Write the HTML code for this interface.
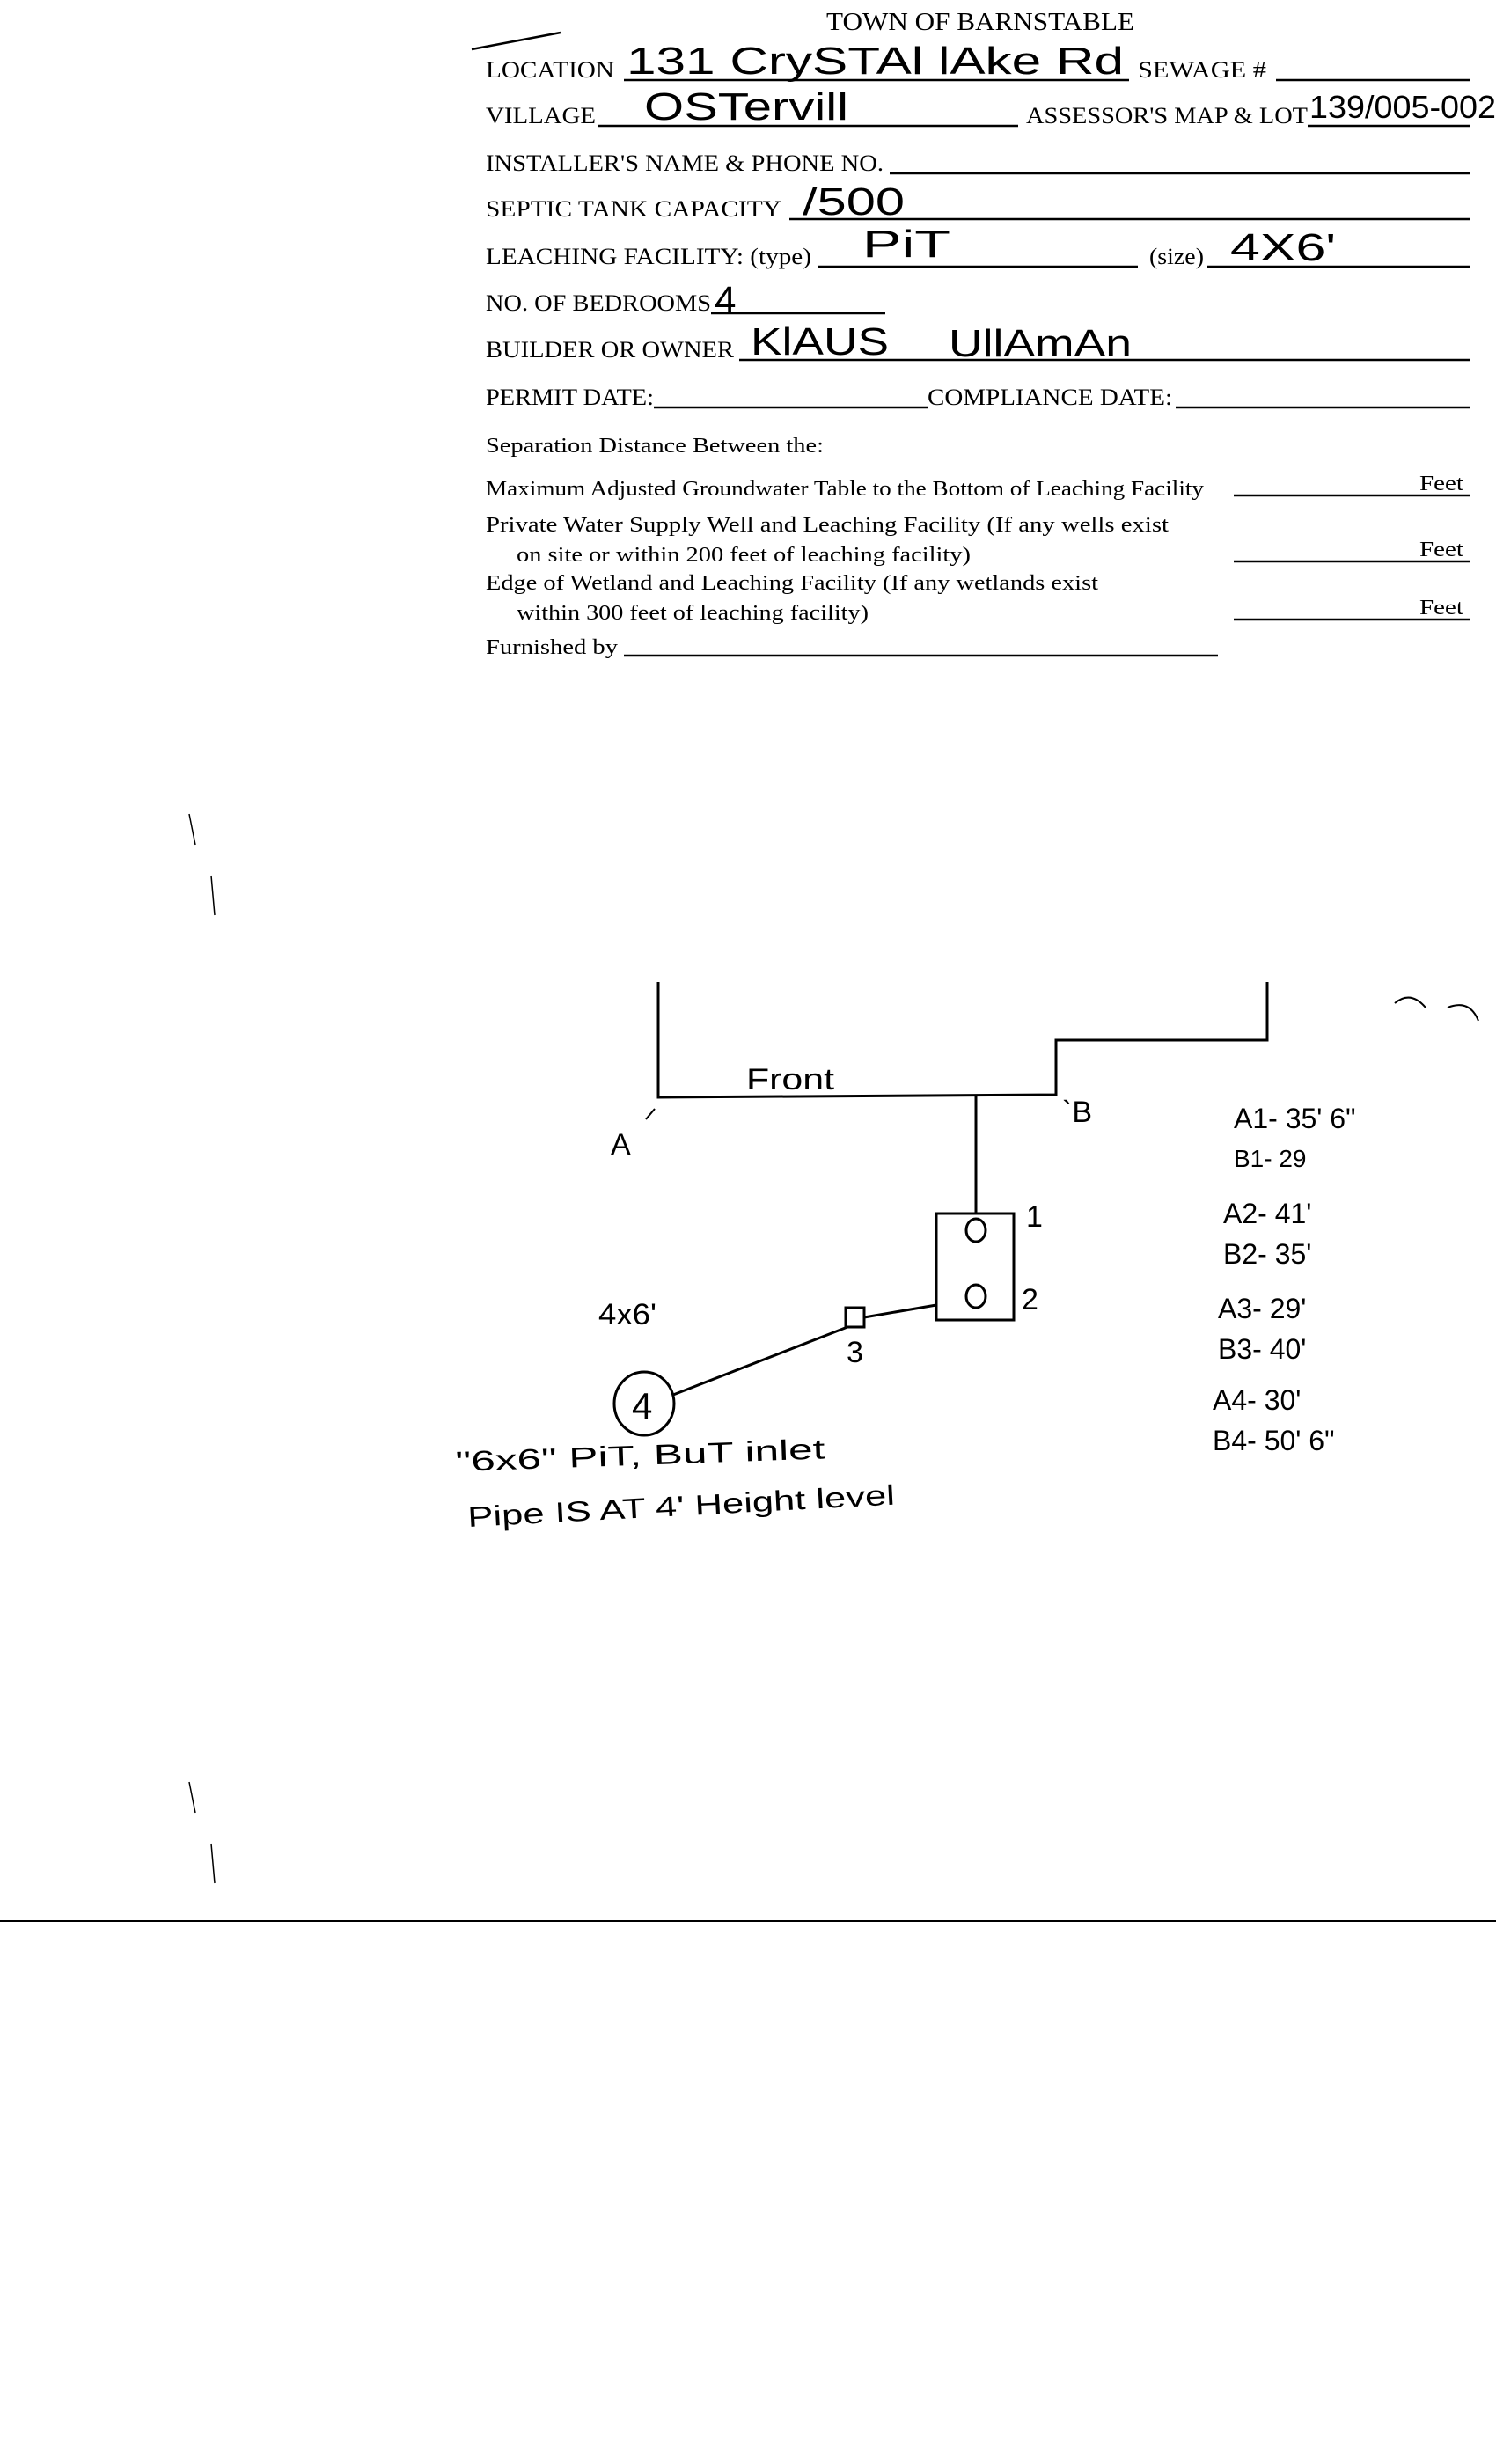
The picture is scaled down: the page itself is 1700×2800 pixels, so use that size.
<!DOCTYPE html>
<html><head><meta charset="utf-8"><style>
html,body{margin:0;padding:0;background:#fff;}
svg{display:block;}
.p{font-family:"Liberation Serif",serif;fill:#000;}
.h{font-family:"Liberation Sans","DejaVu Sans",sans-serif;fill:#000;}
</style></head><body>
<svg width="1700" height="2800" viewBox="0 0 1700 2800" xmlns="http://www.w3.org/2000/svg">
<rect width="1700" height="2800" fill="#fff"/>
<g class="p" font-size="26">
<text x="1114" y="34" text-anchor="middle" font-size="28" textLength="350" lengthAdjust="spacingAndGlyphs">TOWN OF BARNSTABLE</text>
<text x="552" y="88" textLength="146" lengthAdjust="spacingAndGlyphs">LOCATION</text>
<text x="1293" y="88" textLength="146" lengthAdjust="spacingAndGlyphs">SEWAGE #</text>
<text x="552" y="140" textLength="125" lengthAdjust="spacingAndGlyphs">VILLAGE</text>
<text x="1166" y="140" textLength="320" lengthAdjust="spacingAndGlyphs">ASSESSOR'S MAP &amp; LOT</text>
<text x="552" y="194" textLength="452" lengthAdjust="spacingAndGlyphs">INSTALLER'S NAME &amp; PHONE NO.</text>
<text x="552" y="246" textLength="336" lengthAdjust="spacingAndGlyphs">SEPTIC TANK CAPACITY</text>
<text x="552" y="300" textLength="370" lengthAdjust="spacingAndGlyphs">LEACHING FACILITY: (type)</text>
<text x="1306" y="300" textLength="62" lengthAdjust="spacingAndGlyphs">(size)</text>
<text x="552" y="353" textLength="256" lengthAdjust="spacingAndGlyphs">NO. OF BEDROOMS</text>
<text x="552" y="406" textLength="282" lengthAdjust="spacingAndGlyphs">BUILDER OR OWNER</text>
<text x="552" y="460" textLength="191" lengthAdjust="spacingAndGlyphs">PERMIT DATE:</text>
<text x="1054" y="460" textLength="278" lengthAdjust="spacingAndGlyphs">COMPLIANCE  DATE:</text>
<text x="552" y="514" font-size="24" textLength="384" lengthAdjust="spacingAndGlyphs">Separation Distance Between the:</text>
<text x="552" y="563" font-size="24" textLength="816" lengthAdjust="spacingAndGlyphs">Maximum Adjusted Groundwater Table to the Bottom of Leaching Facility</text>
<text x="552" y="604" font-size="24" textLength="776" lengthAdjust="spacingAndGlyphs">Private Water Supply Well and Leaching Facility  (If any wells exist</text>
<text x="587" y="638" font-size="24" textLength="516" lengthAdjust="spacingAndGlyphs">on site or within 200 feet of leaching facility)</text>
<text x="552" y="670" font-size="24" textLength="696" lengthAdjust="spacingAndGlyphs">Edge of Wetland and Leaching Facility (If any wetlands exist</text>
<text x="587" y="704" font-size="24" textLength="400" lengthAdjust="spacingAndGlyphs">within 300 feet of leaching facility)</text>
<text x="552" y="743" font-size="24" textLength="150" lengthAdjust="spacingAndGlyphs">Furnished by</text>
<text x="1613" y="557" font-size="24" textLength="50" lengthAdjust="spacingAndGlyphs">Feet</text>
<text x="1613" y="632" font-size="24" textLength="50" lengthAdjust="spacingAndGlyphs">Feet</text>
<text x="1613" y="698" font-size="24" textLength="50" lengthAdjust="spacingAndGlyphs">Feet</text>
</g>
<g stroke="#000" stroke-width="2.5" fill="none">
<line x1="709" y1="91" x2="1283" y2="91"/>
<line x1="1450" y1="91" x2="1670" y2="91"/>
<line x1="679" y1="143" x2="1157" y2="143"/>
<line x1="1486" y1="143" x2="1670" y2="143"/>
<line x1="1011" y1="197" x2="1670" y2="197"/>
<line x1="897" y1="249" x2="1670" y2="249"/>
<line x1="929" y1="303" x2="1293" y2="303"/>
<line x1="1372" y1="303" x2="1670" y2="303"/>
<line x1="808" y1="356" x2="1006" y2="356"/>
<line x1="840" y1="409" x2="1670" y2="409"/>
<line x1="743" y1="463" x2="1054" y2="463"/>
<line x1="1336" y1="463" x2="1670" y2="463"/>
<line x1="1402" y1="563" x2="1670" y2="563"/>
<line x1="1402" y1="638" x2="1670" y2="638"/>
<line x1="1402" y1="704" x2="1670" y2="704"/>
<line x1="709" y1="745" x2="1384" y2="745"/>
<line x1="536" y1="56" x2="637" y2="37"/>
<line x1="0" y1="2183" x2="1700" y2="2183" stroke-width="2"/>
</g>
<g class="h" font-size="44" font-weight="normal">
<text x="712" y="84" textLength="565" lengthAdjust="spacingAndGlyphs">131  CrySTAl  lAke  Rd</text>
<text x="732" y="136" textLength="232" lengthAdjust="spacingAndGlyphs">OSTervill</text>
<text x="1488" y="134" font-size="36" textLength="212" lengthAdjust="spacingAndGlyphs">139/005-002</text>
<text x="912" y="244" textLength="116" lengthAdjust="spacingAndGlyphs">/500</text>
<text x="980" y="292" textLength="100" lengthAdjust="spacingAndGlyphs">PiT</text>
<text x="1398" y="296" textLength="120" lengthAdjust="spacingAndGlyphs">4X6'</text>
<text x="812" y="356">4</text>
<text x="853" y="403" textLength="157" lengthAdjust="spacingAndGlyphs">KlAUS</text>
<text x="1078" y="405" textLength="208" lengthAdjust="spacingAndGlyphs">UllAmAn</text>
</g>
<g stroke="#000" stroke-width="3" fill="none">
<polyline points="748,1116 748,1247 1200,1244 1200,1182 1440,1182 1440,1116"/>
<line x1="1109" y1="1246" x2="1109" y2="1379"/>
<rect x="1064" y="1379" width="88" height="121"/>
<ellipse cx="1109" cy="1398" rx="11" ry="13"/>
<ellipse cx="1109" cy="1473" rx="11" ry="13"/>
<rect x="961" y="1486" width="21" height="22"/>
<line x1="982" y1="1497" x2="1064" y2="1483"/>
<line x1="963" y1="1508" x2="765" y2="1585"/>
<ellipse cx="732" cy="1595" rx="34" ry="36"/>
<line x1="734" y1="1272" x2="744" y2="1260" stroke-width="2"/>
<path d="M1585,1140 q18,-15 35,5 M1645,1145 q25,-10 35,15" stroke-width="2"/>
</g>
<g class="h" font-size="34">
<text x="848" y="1238" textLength="100" lengthAdjust="spacingAndGlyphs">Front</text>
<text x="694" y="1312">A</text>
<text x="1207" y="1275">`B</text>
<text x="1166" y="1394">1</text>
<text x="1161" y="1488">2</text>
<text x="962" y="1548">3</text>
<text x="718" y="1612" font-size="42">4</text>
<text x="680" y="1505" textLength="66" lengthAdjust="spacingAndGlyphs">4x6'</text>
<text x="518" y="1672" font-size="32" textLength="420" lengthAdjust="spacingAndGlyphs" transform="rotate(-2 518 1672)">"6x6" PiT,  BuT   inlet</text>
<text x="532" y="1735" font-size="32" textLength="486" lengthAdjust="spacingAndGlyphs" transform="rotate(-3 532 1735)">Pipe  IS  AT  4'  Height  level</text>
</g>
<g class="h" font-size="32">
<text x="1402" y="1282">A1- 35' 6"</text>
<text x="1402" y="1326" font-size="28">B1-  29</text>
<text x="1390" y="1390">A2-  41'</text>
<text x="1390" y="1436">B2-  35'</text>
<text x="1384" y="1498">A3-  29'</text>
<text x="1384" y="1544">B3-  40'</text>
<text x="1378" y="1602">A4-  30'</text>
<text x="1378" y="1648">B4-  50' 6"</text>
</g>
<g stroke="#000" stroke-width="1.5">
<line x1="215" y1="925" x2="222" y2="960"/>
<line x1="240" y1="995" x2="244" y2="1040"/>
<line x1="215" y1="2025" x2="222" y2="2060"/>
<line x1="240" y1="2095" x2="244" y2="2140"/>
</g>
</svg>
</body></html>
